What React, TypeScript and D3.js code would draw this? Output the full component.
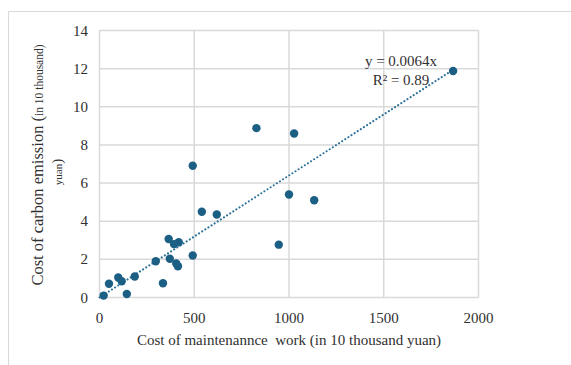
import { useEffect, useRef } from "react";
import * as d3 from "d3";

const workCost = [22, 50, 99, 117, 144, 186, 297, 335, 365, 371, 393, 418, 405, 414, 492, 492, 540, 619, 828, 946, 1000, 1027, 1133, 1866];
const carbonCost = [0.1, 0.72, 1.05, 0.85, 0.18, 1.1, 1.9, 0.75, 3.07, 2.03, 2.8, 2.9, 1.78, 1.64, 2.2, 6.91, 4.5, 4.35, 8.88, 2.77, 5.4, 8.6, 5.1, 11.88];
const xTicks = [0, 500, 1000, 1500, 2000];
const yTicks = [0, 2, 4, 6, 8, 10, 12, 14];
const slope = 0.0064;
const rSquared = "0.89";

const W = 571;
const H = 365;
const font = "'Liberation Serif', 'Times New Roman', serif";
const dotColor = "#1c5f84";
const gridColor = "#d9d9d9";
const textColor = "#303030";

export default function App() {
  const ref = useRef<SVGSVGElement | null>(null);

  useEffect(() => {
    const el = ref.current;
    if (!el) return;
    const svg = d3.select(el);
    svg.selectAll("*").remove();

    const x = d3.scaleLinear().domain([0, 2000]).range([99.5, 478.5]);
    const y = d3.scaleLinear().domain([0, 14]).range([297.5, 30.5]);

    // outer frame (top + left only visible)
    svg.append("path").attr("d", `M8.5,${H} V11.5 H${W}`).attr("fill", "none").attr("stroke", "#d9d9d9").attr("stroke-width", 1);

    const grid = svg.append("g");
    grid
      .selectAll("line.h")
      .data(yTicks)
      .join("line")
      .attr("x1", x(0))
      .attr("x2", x(2000))
      .attr("y1", (d) => y(d))
      .attr("y2", (d) => y(d))
      .attr("stroke", gridColor)
      .attr("stroke-width", 1.5);
    grid
      .selectAll("line.v")
      .data(xTicks)
      .join("line")
      .attr("x1", (d) => x(d))
      .attr("x2", (d) => x(d))
      .attr("y1", y(0))
      .attr("y2", y(14))
      .attr("stroke", gridColor)
      .attr("stroke-width", 1.5);

    svg
      .append("g")
      .selectAll("text")
      .data(yTicks)
      .join("text")
      .attr("x", 88)
      .attr("y", (d) => y(d) + 5)
      .attr("text-anchor", "end")
      .attr("font-family", font)
      .attr("font-size", 15)
      .attr("fill", textColor)
      .text((d) => d);

    svg
      .append("g")
      .selectAll("text")
      .data(xTicks)
      .join("text")
      .attr("x", (d) => x(d))
      .attr("y", 323)
      .attr("text-anchor", "middle")
      .attr("font-family", font)
      .attr("font-size", 15)
      .attr("fill", textColor)
      .text((d) => d);

    // trendline through origin
    const xMax = d3.max(workCost) ?? 0;
    svg
      .append("line")
      .attr("x1", x(0))
      .attr("y1", y(0))
      .attr("x2", x(xMax))
      .attr("y2", y(slope * xMax))
      .attr("stroke", "#2a6f98")
      .attr("stroke-width", 2)
      .attr("stroke-linecap", "round")
      .attr("stroke-dasharray", "0.1 3.6");

    svg
      .append("g")
      .selectAll("circle")
      .data(workCost)
      .join("circle")
      .attr("cx", (d) => x(d))
      .attr("cy", (_, i) => y(carbonCost[i]))
      .attr("r", 4.2)
      .attr("fill", dotColor);

    const eq = svg.append("g").attr("font-family", font).attr("font-size", 15).attr("fill", textColor).attr("text-anchor", "middle");
    eq.append("text").attr("x", 401).attr("y", 66).text(`y = ${slope}x`);
    eq.append("text").attr("x", 401).attr("y", 85).text(`R² = ${rSquared}`);

    svg
      .append("text")
      .attr("x", 289)
      .attr("y", 345)
      .attr("text-anchor", "middle")
      .attr("font-family", font)
      .attr("font-size", 15)
      .attr("fill", textColor)
      .attr("xml:space", "preserve")
      .text("Cost of maintenannce  work (in 10 thousand yuan)");

    const yt = svg
      .append("text")
      .attr("transform", "translate(43,165) rotate(-90)")
      .attr("text-anchor", "middle")
      .attr("font-family", font)
      .attr("fill", textColor);
    yt.append("tspan").attr("font-size", 16.5).text("Cost of carbon emission (");
    yt.append("tspan").attr("font-size", 11.5).text("in 10 thousand)");

    const yt2 = svg
      .append("text")
      .attr("transform", "translate(62,172) rotate(-90)")
      .attr("text-anchor", "middle")
      .attr("font-family", font)
      .attr("fill", textColor);
    yt2.append("tspan").attr("font-size", 11).text("yuan");
    yt2.append("tspan").attr("font-size", 15).text(")");
  }, []);

  return (
    <svg
      ref={ref}
      width={W}
      height={H}
      viewBox={`0 0 ${W} ${H}`}
      style={{ position: "absolute", left: 0, top: 0, background: "#fff" }}
    />
  );
}
